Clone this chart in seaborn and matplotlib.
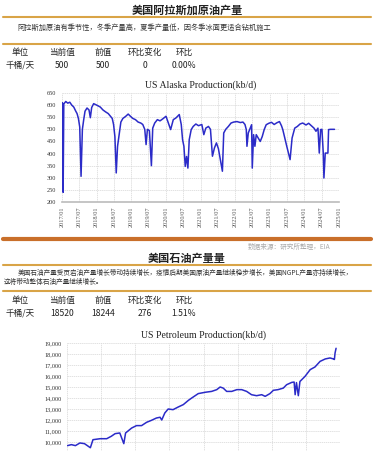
import pandas as pd
import matplotlib.pyplot as plt
import matplotlib.dates as mdates
import matplotlib.ticker as mticker
from matplotlib.lines import Line2D
import seaborn as sns

# --- data ---
alaska_dates = [
    "2017-01-06", "2017-01-13", "2017-01-20", "2017-02-10", "2017-03-03", "2017-03-24",
    "2017-04-14", "2017-05-05", "2017-05-26", "2017-06-09", "2017-06-23", "2017-07-07",
    "2017-07-21", "2017-08-04", "2017-08-18", "2017-09-01", "2017-09-22", "2017-10-13",
    "2017-10-27", "2017-11-10", "2017-12-01", "2017-12-22", "2018-01-12", "2018-02-09",
    "2018-03-09", "2018-04-06", "2018-05-04", "2018-05-25", "2018-06-15", "2018-06-29",
    "2018-07-13", "2018-07-27", "2018-08-10", "2018-08-24", "2018-09-14", "2018-10-05",
    "2018-11-02", "2018-11-30", "2018-12-21", "2019-01-18", "2019-02-15", "2019-03-15",
    "2019-04-12", "2019-05-03", "2019-05-24", "2019-06-07", "2019-06-21", "2019-07-12",
    "2019-08-02", "2019-08-16", "2019-09-06", "2019-10-04", "2019-11-01", "2019-12-06",
    "2020-01-03", "2020-01-24", "2020-02-21", "2020-03-20", "2020-04-17", "2020-05-22",
    "2020-06-12", "2020-06-26", "2020-07-10", "2020-07-24", "2020-08-07", "2020-08-21",
    "2020-09-04", "2020-09-25", "2020-10-16", "2020-11-13", "2020-12-11", "2021-01-15",
    "2021-02-05", "2021-02-26", "2021-03-26", "2021-04-16", "2021-05-07", "2021-05-28",
    "2021-06-18", "2021-07-09", "2021-08-20", "2021-09-03", "2021-09-24", "2021-10-22",
    "2021-11-19", "2021-12-17", "2022-01-21", "2022-02-25", "2022-03-25", "2022-04-15",
    "2022-04-29", "2022-05-06", "2022-05-20", "2022-06-10", "2022-06-24", "2022-07-01",
    "2022-07-15", "2022-07-29", "2022-08-12", "2022-09-02", "2022-09-23", "2022-10-14",
    "2022-11-04", "2022-11-25", "2022-12-23", "2023-01-20", "2023-02-17", "2023-03-17",
    "2023-04-14", "2023-05-05", "2023-05-19", "2023-06-09", "2023-06-30", "2023-08-04",
    "2023-08-25", "2023-09-22", "2023-10-20", "2023-11-17", "2023-12-15", "2024-01-19",
    "2024-02-16", "2024-03-15", "2024-04-12", "2024-05-03", "2024-05-24", "2024-06-07",
    "2024-06-21", "2024-07-05", "2024-07-19", "2024-07-26", "2024-08-09", "2024-09-06",
    "2024-09-13", "2024-10-04", "2024-10-25", "2024-11-15",
]
alaska_values = [
    610, 240, 605, 615, 608, 612,
    600, 592, 575, 565, 545, 510,
    306, 500, 540, 575, 588, 580,
    548, 590, 606, 602, 598, 592,
    580, 572, 565, 555, 545, 520,
    470, 320, 430, 470, 530, 545,
    553, 563, 555, 545, 540, 530,
    526, 520, 500, 437, 500, 495,
    350, 505, 526, 540, 535, 545,
    554, 530, 499, 540, 547, 561,
    520, 457, 430, 347, 388, 340,
    457, 499, 512, 522, 515, 520,
    478, 505, 512, 500, 389, 423,
    444, 420, 327, 485, 500, 512,
    526, 530, 532, 528, 530, 520,
    499, 430, 485, 505, 519, 340,
    478, 430, 478, 464, 450, 470,
    499, 519, 525, 529, 520, 527,
    532, 515, 499, 464, 430, 375,
    464, 505, 512, 522, 526, 518,
    525, 515, 505, 492, 505, 402,
    499, 500, 402, 299, 402, 402,
    499, 500, 500, 500,
]

petro_dates = [
    "2017-01-06", "2017-02-17", "2017-04-01", "2017-05-19", "2017-07-07", "2017-09-08",
    "2017-10-06", "2017-12-22", "2018-03-02", "2018-04-20", "2018-05-31", "2018-07-20",
    "2018-09-01", "2018-09-20", "2018-11-24", "2019-01-15", "2019-03-10", "2019-05-03",
    "2019-06-24", "2019-08-16", "2019-09-24", "2019-10-12", "2019-11-14", "2019-12-20",
    "2020-02-10", "2020-04-05", "2020-05-30", "2020-07-24", "2020-08-28", "2020-11-06",
    "2021-01-19", "2021-03-29", "2021-05-23", "2021-06-28", "2021-07-31", "2021-09-06",
    "2021-10-30", "2021-12-24", "2022-02-14", "2022-04-08", "2022-05-30", "2022-07-23",
    "2022-09-16", "2022-10-23", "2022-12-13", "2023-01-19", "2023-03-10", "2023-05-05",
    "2023-06-10", "2023-08-04", "2023-08-29", "2023-09-09", "2023-09-23", "2023-10-13",
    "2023-10-30", "2023-12-24", "2024-02-17", "2024-04-08", "2024-06-02", "2024-07-27",
    "2024-09-16", "2024-10-23", "2024-11-02", "2024-11-09", "2024-11-20",
]
petro_values = [
    9670, 9760, 9670, 9910, 9850, 9480,
    10210, 10300, 10300, 10520, 10760, 10820,
    9850, 10820, 11270, 11490, 11490, 11790,
    11970, 12180, 12250, 12000, 12640, 13000,
    12940, 13180, 13400, 13790, 14000, 14400,
    14520, 14600, 14760, 15000, 14900, 14600,
    14600, 14760, 14760, 14600, 14300, 14210,
    14300, 14150, 14400, 14700, 14760, 14900,
    15210, 15420, 15450, 14300, 15400, 14210,
    15500, 15970, 16580, 16820, 17330, 17550,
    17640, 17550, 17500, 18090, 18520,
]

table_header = ["单位", "当前值", "前值", "环比变化", "环比"]
alaska_row = ["千桶/天", "500", "500", "0", "0.00%"]
petro_row = ["千桶/天", "18520", "18244", "276", "1.51%"]

alaska_ticks = pd.date_range("2017-01-01", "2025-01-01", freq="6MS")
petro_ticks = pd.date_range("2017-01-01", "2025-01-01", freq="YS")

# --- style ---
sns.set_theme(style="white")
plt.rcParams["font.family"] = ["Noto Sans CJK SC", "DejaVu Sans"]

W, H = 374, 451
fig = plt.figure(figsize=(W / 100, H / 100), dpi=100)
fig.patch.set_facecolor("white")


def fx(x):
    return x / W


def fy(y):
    return 1 - y / H


def hline(y, color="#d9a447", lw=1.5):
    fig.add_artist(Line2D([fx(3), fx(371)], [fy(y), fy(y)], color=color, lw=lw,
                          transform=fig.transFigure))


col_x = [20, 62, 103, 145, 184]

# --- section 1 text ---
fig.text(fx(187), fy(10), "美国阿拉斯加原油产量", ha="center", va="center",
         fontsize=8, fontweight="bold", color="#222222")
hline(16.5)
fig.text(fx(17), fy(28), "阿拉斯加原油有季节性，冬季产量高，夏季产量低，因冬季冰面更适合钻机施工",
         ha="left", va="center", fontsize=5.2, color="#333333")
hline(44)
for x, t in zip(col_x, table_header):
    fig.text(fx(x), fy(52), t, ha="center", va="center", fontsize=6.2, color="#222222")
for x, t in zip(col_x, alaska_row):
    fig.text(fx(x), fy(65), t, ha="center", va="center", fontsize=6.2, color="#222222")

serif = ["Liberation Serif", "DejaVu Serif"]

# --- chart 1 ---
ax1 = fig.add_axes([fx(62), fy(202), fx(339) - fx(62), (202 - 93) / H])
df1 = pd.DataFrame({"date": pd.to_datetime(alaska_dates), "value": alaska_values})
sns.lineplot(data=df1, x="date", y="value", ax=ax1, color="#2b2bc8", lw=1.1)
ax1.set_xlim(pd.Timestamp("2017-01-01"), pd.Timestamp("2025-01-01"))
ax1.set_ylim(200, 650)
ax1.set_yticks(range(200, 651, 50))
ax1.set_xticks(alaska_ticks)
ax1.xaxis.set_major_formatter(mdates.DateFormatter("%Y/%m"))
ax1.set_title("US Alaska Production(kb/d)", fontsize=7, family=serif, pad=4, color="#222222")

# --- section 2 text ---
hline(239, color="#c96f2a", lw=3)
fig.text(fx(330), fy(247), "数据来源：研究所整理，EIA", ha="right", va="center",
         fontsize=4.8, color="#aaaaaa", style="italic")
fig.text(fx(187), fy(258), "美国石油产量量", ha="center", va="center",
         fontsize=8, fontweight="bold", color="#222222")
hline(265)
fig.text(fx(18), fy(273),
         "美国石油产量受页岩油产量增长带动持续增长，疫情后期美国原油产量继续稳步增长，美国NGPL产量亦持续增长，",
         ha="left", va="center", fontsize=4.8, color="#333333")
fig.text(fx(4), fy(282), "这将带动整体石油产量继续增长。",
         ha="left", va="center", fontsize=4.8, color="#333333")
hline(291)
for x, t in zip(col_x, table_header):
    fig.text(fx(x), fy(300), t, ha="center", va="center", fontsize=6.2, color="#222222")
for x, t in zip(col_x, petro_row):
    fig.text(fx(x), fy(313), t, ha="center", va="center", fontsize=6.2, color="#222222")

# --- chart 2 (cropped at the bottom like the reference) ---
ax2 = fig.add_axes([fx(67), fy(453), fx(340) - fx(67), (453 - 343) / H])
df2 = pd.DataFrame({"date": pd.to_datetime(petro_dates), "value": petro_values})
sns.lineplot(data=df2, x="date", y="value", ax=ax2, color="#2b2bc8", lw=1.1)
ax2.set_xlim(pd.Timestamp("2017-01-01"), pd.Timestamp("2025-01-01"))
ax2.set_ylim(9000, 19000)
ax2.set_yticks(range(10000, 19001, 1000))
ax2.set_xticks(petro_ticks)
ax2.set_xticklabels([])
ax2.yaxis.set_major_formatter(mticker.StrMethodFormatter("{x:,.0f}"))
ax2.set_title("US Petroleum Production(kb/d)", fontsize=7, family=serif, pad=4, color="#222222")

for ax in (ax1, ax2):
    ax.set_xlabel("")
    ax.set_ylabel("")
    ax.grid(True, color="#d6d6d6", lw=0.5, ls=(0, (2, 1)))
    ax.set_axisbelow(True)
    for s in ax.spines.values():
        s.set_visible(False)
    ax.spines["bottom"].set_visible(True)
    ax.spines["bottom"].set_color("#bbbbbb")
    ax.spines["bottom"].set_linewidth(1.2)
    ax.tick_params(axis="both", length=0, pad=4, labelsize=4.5, colors="#333333")
    for lab in ax.get_xticklabels() + ax.get_yticklabels():
        lab.set_family(serif)

for lab in ax1.get_xticklabels():
    lab.set_rotation(90)
    lab.set_color("#555555")
ax1.tick_params(axis="x", pad=3)

fig.savefig("out.png", dpi=100, facecolor="white")
